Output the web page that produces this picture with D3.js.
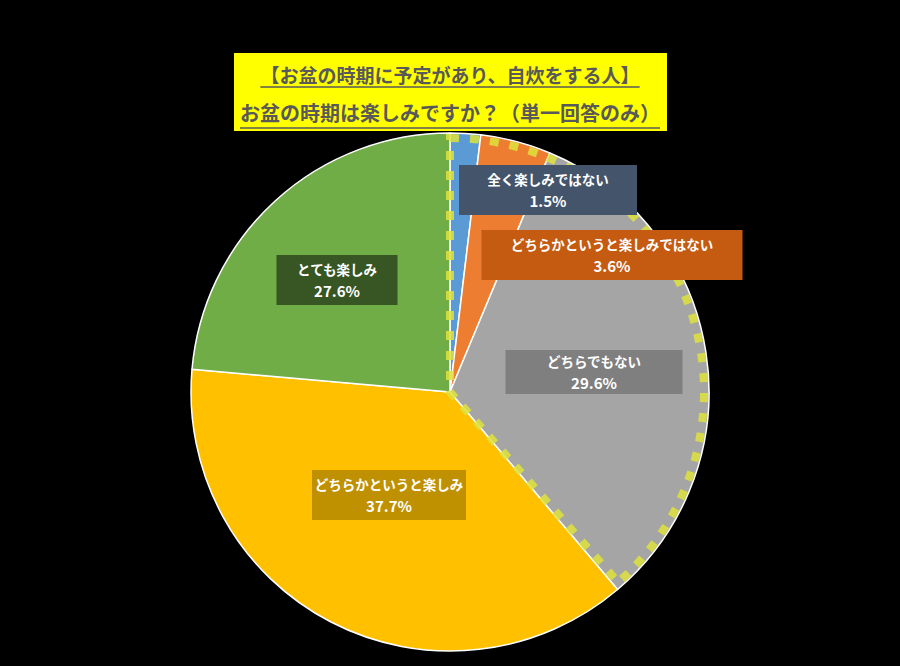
<!DOCTYPE html>
<html><head><meta charset="utf-8">
<script src="https://cdn.jsdelivr.net/npm/d3@7"></script>
<style>html,body{margin:0;padding:0;background:#000;}svg{display:block;}</style>
</head><body>
<svg id="chart" width="900" height="666"></svg>
<script>
const titleLines = ["【お盆の時期に予定があり、自炊をする人】", "お盆の時期は楽しみですか？（単一回答のみ）"];
const categories = ["全く楽しみではない", "どちらかというと楽しみではない", "どちらでもない", "どちらかというと楽しみ", "とても楽しみ"];
// percentages printed on the data labels
const values = [1.5, 3.6, 29.6, 37.7, 27.6];
// slice shares as drawn in the picture (% of the circle, read from the slice boundaries)
const sliceShares = [1.9, 4.4, 32.5, 37.6, 23.6];
const sliceColors = ["#5b9bd5", "#ed7d31", "#a5a5a5", "#ffc000", "#70ad47"];
const labelFills = ["#44546a", "#c55a11", "#7f7f7f", "#bf9000", "#375623"];
// label box layout (center x, center y, width, height)
const labelBoxes = [[548, 190, 178, 50], [612, 255, 261, 50], [594, 372, 177, 44], [389, 495, 154, 50], [337, 280, 121, 50]];
const highlightCount = 3; // first three slices outlined

const svg = d3.select("#chart");
const W = 900, H = 666;
svg.append("rect").attr("width", W).attr("height", H).attr("fill", "#000");

const cx = 450, cy = 392, R = 259;
const g = svg.append("g").attr("transform", `translate(${cx},${cy})`);
const pie = d3.pie().sort(null).value(d => d);
const arcs = pie(sliceShares);
const arc = d3.arc().innerRadius(0).outerRadius(R);

g.selectAll("path.slice").data(arcs).join("path")
  .attr("class", "slice")
  .attr("d", arc)
  .attr("fill", (d, i) => sliceColors[i])
  .attr("stroke", "#fff").attr("stroke-width", 1.5).attr("stroke-linejoin", "round");

// label boxes
const lab = svg.append("g");
const font = "'Noto Sans CJK JP','Noto Sans',sans-serif";
categories.forEach((c, i) => {
  const [bx, by, bw, bh] = labelBoxes[i];
  lab.append("rect").attr("x", bx - bw / 2).attr("y", by - bh / 2).attr("width", bw).attr("height", bh).attr("fill", labelFills[i]);
  lab.append("text").attr("x", bx).attr("y", by - 11).attr("text-anchor", "middle").attr("dominant-baseline", "central")
    .attr("fill", "#fff").attr("font-family", font).attr("font-weight", "bold").attr("font-size", 13.5).text(c);
  lab.append("text").attr("x", bx).attr("y", by + 10).attr("text-anchor", "middle").attr("dominant-baseline", "central")
    .attr("fill", "#fff").attr("font-family", font).attr("font-weight", "bold").attr("font-size", 15)
    .text(values[i].toFixed(1) + "%");
});

// dashed highlight outline over the first slices
const endA = arcs[highlightCount - 1].endAngle;
const outline = d3.arc().innerRadius(0).outerRadius(R - 5).startAngle(0).endAngle(endA - 0.02);
g.append("path").attr("d", outline())
  .attr("fill", "none").attr("stroke", "rgb(222,226,60)").attr("stroke-opacity", 0.85)
  .attr("stroke-width", 8).attr("stroke-dasharray", "9 11");

// title
const tb = svg.append("g");
tb.append("rect").attr("x", 234).attr("y", 53).attr("width", 433).attr("height", 78).attr("fill", "#ffff00");
const tY = [74, 112];
const tSize = [19, 20];
const uY = [87, 128];
titleLines.forEach((t, i) => {
  const tt = tb.append("text").attr("x", 450).attr("y", tY[i]).attr("text-anchor", "middle").attr("dominant-baseline", "central")
    .attr("fill", "#595959").attr("font-family", font).attr("font-weight", "bold").attr("font-size", tSize[i]).text(t);
  const bb = tt.node().getBBox();
  tb.append("line").attr("x1", bb.x).attr("x2", bb.x + bb.width).attr("y1", uY[i]).attr("y2", uY[i])
    .attr("stroke", "#595959").attr("stroke-width", 1.5);
});
</script>
</body></html>
